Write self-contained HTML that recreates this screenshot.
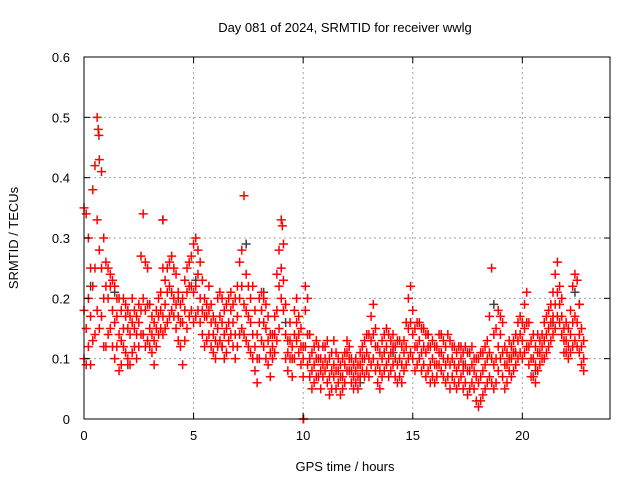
<!DOCTYPE html>
<html><head><meta charset="utf-8"><style>
body{margin:0;background:#fff}
svg{display:block;font-family:"Liberation Sans",sans-serif;font-size:13px}
</style></head><body>
<svg id="c" width="640" height="480">
<text x="345" y="32" text-anchor="middle">Day 081 of 2024, SRMTID for receiver wwlg</text>
<text x="345" y="471" text-anchor="middle">GPS time / hours</text>
<text transform="translate(18,238) rotate(-90)" text-anchor="middle">SRMTID / TECUs</text>
<g id="grid"></g><g id="gray"></g><g id="red"></g><g id="axes"></g>
</svg>
<script>
const xTicks=[0,5,10,15,20];
const yTicks=[0,0.1,0.2,0.3,0.4,0.5,0.6];
const yTickLabels=["0","0.1","0.2","0.3","0.4","0.5","0.6"];
const t0=0, dt=0.1;
const lo=[.10,.09,.12,.09,.13,.14,.18,.15,.17,.12,.12,.14,.15,.12,.10,.12,.08,.09,.12,.11,
.10,.09,.11,.12,.10,.12,.14,.14,.12,.13,.12,.11,.09,.12,.14,.15,.14,.15,.16,.17,
.18,.17,.15,.13,.12,.09,.13,.15,.17,.18,.16,.17,.18,.16,.14,.12,.13,.14,.12,.11,
.10,.12,.13,.12,.10,.11,.13,.14,.12,.10,.12,.14,.15,.14,.13,.12,.11,.10,.08,.06,
.10,.13,.12,.10,.09,.07,.10,.11,.13,.15,.20,.18,.10,.08,.10,.07,.10,.13,.11,.09,
.07,.12,.09,.07,.05,.06,.07,.07,.05,.07,.08,.06,.04,.05,.07,.05,.06,.04,.05,.06,
.08,.08,.06,.05,.06,.05,.07,.08,.07,.08,.07,.09,.10,.08,.06,.05,.07,.08,.09,.07,
.08,.09,.07,.06,.07,.06,.08,.09,.10,.11,.10,.08,.09,.10,.08,.09,.07,.08,.06,.07,
.06,.07,.09,.08,.07,.06,.07,.05,.07,.06,.05,.06,.07,.05,.06,.04,.05,.06,.05,.03,
.02,.03,.04,.05,.06,.07,.06,.05,.06,.08,.10,.07,.05,.06,.08,.07,.08,.09,.10,.11,
.10,.11,.12,.09,.07,.07,.06,.08,.09,.10,.10,.11,.12,.13,.14,.15,.17,.16,.14,.11,
.11,.10,.11,.12,.13,.12,.11,.09,.08];
const mid=[.18,.15,.20,.17,.22,.25,.33,.28,.25,.20,.22,.20,.22,.18,.16,.17,.14,.13,.15,.17,
.15,.14,.16,.15,.14,.16,.18,.20,.18,.19,.15,.14,.13,.15,.17,.18,.17,.19,.21,.22,
.21,.20,.19,.17,.16,.16,.18,.21,.22,.22,.21,.22,.24,.20,.18,.17,.17,.18,.16,.14,
.13,.15,.17,.16,.14,.15,.16,.18,.16,.14,.17,.20,.22,.19,.18,.17,.16,.14,.12,.10,
.16,.18,.16,.15,.13,.11,.12,.14,.18,.22,.25,.23,.14,.11,.13,.10,.14,.16,.14,.12,
.10,.18,.14,.10,.08,.09,.10,.10,.08,.09,.10,.09,.07,.08,.09,.08,.08,.07,.07,.09,
.11,.10,.08,.07,.08,.07,.09,.10,.10,.11,.10,.13,.14,.12,.09,.08,.10,.11,.12,.10,
.11,.12,.10,.09,.10,.09,.11,.12,.15,.16,.14,.12,.12,.13,.11,.12,.11,.12,.09,.10,
.09,.09,.11,.11,.10,.09,.10,.09,.10,.09,.08,.09,.10,.08,.09,.08,.08,.09,.08,.07,
.06,.07,.08,.09,.10,.11,.10,.09,.10,.12,.14,.11,.09,.09,.10,.10,.11,.11,.13,.14,
.13,.15,.16,.12,.10,.10,.09,.11,.11,.12,.13,.14,.15,.16,.17,.19,.21,.19,.17,.13,
.13,.12,.14,.16,.17,.16,.14,.12,.10];
const hi=[.35,.34,.30,.25,.38,.42,.50,.43,.41,.30,.26,.25,.24,.23,.22,.20,.20,.18,.20,.19,
.18,.17,.20,.18,.17,.19,.27,.34,.26,.25,.19,.17,.16,.18,.20,.21,.25,.23,.25,.26,
.27,.25,.24,.21,.19,.20,.23,.25,.26,.27,.29,.30,.28,.26,.23,.20,.19,.22,.19,.17,
.16,.20,.21,.20,.18,.19,.20,.21,.19,.20,.22,.26,.28,.37,.24,.22,.20,.22,.18,.14,
.20,.21,.20,.19,.17,.14,.14,.17,.24,.28,.33,.29,.19,.13,.16,.12,.18,.20,.17,.15,
.12,.22,.20,.14,.11,.12,.13,.12,.10,.12,.12,.13,.10,.11,.13,.11,.10,.09,.10,.11,
.13,.12,.10,.09,.10,.09,.11,.12,.13,.14,.14,.17,.19,.15,.12,.11,.13,.14,.15,.14,
.13,.14,.12,.13,.13,.12,.13,.16,.20,.22,.18,.15,.16,.16,.15,.15,.14,.14,.12,.13,
.12,.12,.14,.14,.13,.12,.14,.13,.12,.12,.11,.12,.12,.11,.12,.11,.11,.12,.10,.10,
.10,.11,.11,.12,.13,.17,.25,.14,.15,.18,.17,.16,.12,.11,.13,.12,.13,.14,.16,.17,
.16,.19,.21,.16,.13,.14,.12,.14,.13,.14,.16,.17,.18,.19,.21,.24,.26,.22,.20,.15,
.16,.15,.18,.22,.24,.23,.19,.15,.13];
const extraT=[10.0,10.02,3.6,9.05,0.65,0.68];
const extraV=[0.0,0.0,0.33,0.32,0.48,0.47];
const grayT=[0.3,1.4,2.0,3.6,4.3,5.1,6.3,7.4,8.2,9.2,12.6,14.1,15.7,17.3,18.7,19.6,20.6,21.4,22.4,22.6];
const grayV=[0.22,0.21,0.09,0.33,0.20,0.23,0.12,0.29,0.21,0.16,0.06,0.11,0.14,0.09,0.19,0.11,0.08,0.16,0.21,0.19];

const X0=84,X1=610,Y0=419,Y1=57;
const sx=v=>X0+(v-0)/(24-0)*(X1-X0);
const sy=v=>Y0-(v-0)/(0.6-0)*(Y0-Y1);
const NS="http://www.w3.org/2000/svg";
function mk(tag,attrs,parent){const e=document.createElementNS(NS,tag);for(const k in attrs)e.setAttribute(k,attrs[k]);parent.appendChild(e);return e;}
const grid=document.getElementById('grid'),axes=document.getElementById('axes');
xTicks.forEach((v,i)=>{const x=sx(v);
 if(v>0){const g=mk('line',{x1:x,x2:x,y1:Y0,y2:Y1,stroke:'#a0a0a0','stroke-dasharray':'2,3'},grid);
 
 }
 mk('line',{x1:x,x2:x,y1:Y0,y2:Y0-6,stroke:'#000'},axes);
 mk('line',{x1:x,x2:x,y1:Y1,y2:Y1+6,stroke:'#000'},axes);
 const t=mk('text',{x:x,y:Y0+21,'text-anchor':'middle'},axes);t.textContent=String(v);
 
 
});
yTicks.forEach((v,i)=>{const y=sy(v);
 if(v>0&&v<0.6){const g=mk('line',{x1:X0,x2:X1,y1:y,y2:y,stroke:'#a0a0a0','stroke-dasharray':'2,3'},grid);
 
 }
 mk('line',{x1:X0,x2:X0+6,y1:y,y2:y,stroke:'#000'},axes);
 mk('line',{x1:X1,x2:X1-6,y1:y,y2:y,stroke:'#000'},axes);
 const t=mk('text',{x:X0-14,y:y+5,'text-anchor':'end'},axes);t.textContent=yTickLabels[i];
 
 
});
const b=mk('rect',{x:X0,y:Y1,width:X1-X0,height:Y0-Y1,fill:'none',stroke:'#000'},axes);


function plus(g,t,v,col){const x=sx(t),y=sy(v);
 const p=mk('path',{d:`M${x-4.5},${y}h9M${x},${y-4.5}v9`,stroke:col,'stroke-width':1.5},g);
 
 }
const gg=document.getElementById('gray'),rg=document.getElementById('red');
grayT.forEach((t,i)=>plus(gg,t,grayV[i],'#404040'));
[lo,mid,hi].forEach(arr=>arr.forEach((v,i)=>plus(rg,t0+i*dt,v,'#ff0000')));
extraT.forEach((t,i)=>plus(rg,t,extraV[i],'#ff0000'));
</script>
</body></html>
